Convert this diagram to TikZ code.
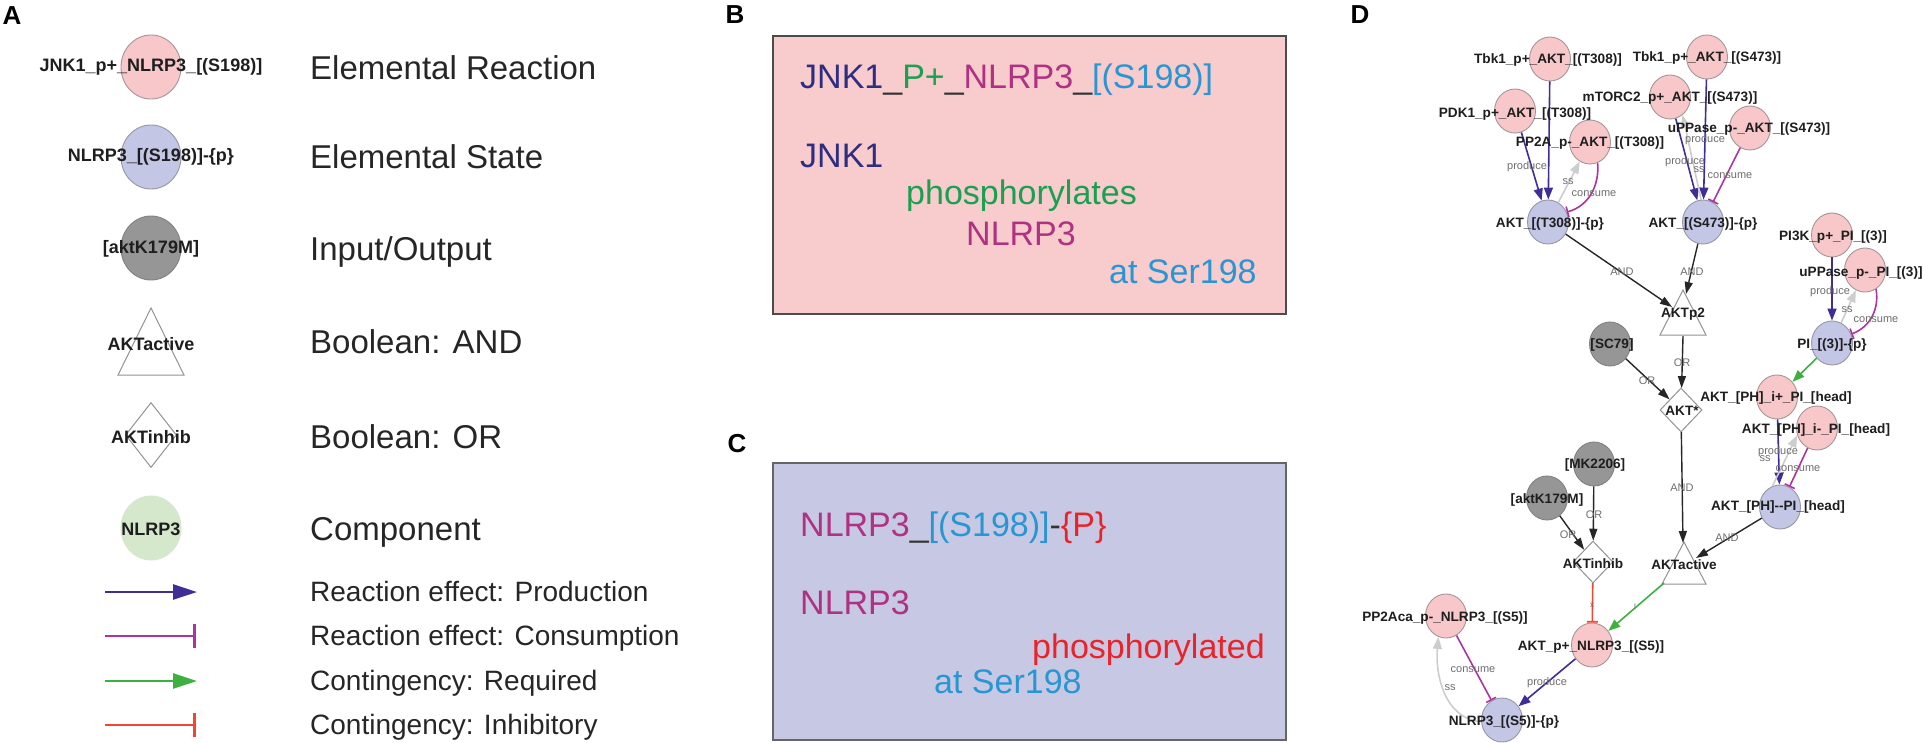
\documentclass[tikz,border=0pt]{standalone}
\usepackage{fontspec}
\setmainfont{Liberation Sans}
\usetikzlibrary{arrows.meta,shapes.geometric}
\definecolor{rxnfill}{RGB}{247,199,201}
\definecolor{rxndraw}{RGB}{165,150,150}
\definecolor{stfill}{RGB}{196,198,230}
\definecolor{stdraw}{RGB}{150,150,165}
\definecolor{iofill}{RGB}{150,150,150}
\definecolor{iodraw}{RGB}{130,130,130}
\definecolor{compfill}{RGB}{213,232,203}
\definecolor{prodc}{RGB}{62,46,150}
\definecolor{consc}{RGB}{172,52,160}
\definecolor{reqc}{RGB}{62,176,66}
\definecolor{inhc}{RGB}{240,70,50}
\definecolor{ssc}{RGB}{205,205,205}
\definecolor{txtc}{RGB}{30,30,30}
\definecolor{elc}{RGB}{110,110,110}
\definecolor{navyc}{RGB}{45,45,130}
\definecolor{pgreen}{RGB}{25,160,80}
\definecolor{magc}{RGB}{175,50,130}
\definecolor{skyc}{RGB}{40,150,210}
\definecolor{redc}{RGB}{235,35,40}
\definecolor{boxpink}{RGB}{248,203,205}
\definecolor{boxlav}{RGB}{198,200,228}
\tikzset{
  rxn/.style={ellipse,draw=rxndraw,fill=rxnfill,line width=0.9pt,minimum width=41pt,minimum height=44pt,inner sep=0pt},
  st/.style={rxn,draw=stdraw,fill=stfill},
  io/.style={rxn,draw=iodraw,fill=iofill},
  comp/.style={rxn,draw=compfill,fill=compfill},
  dlbl/.style={font=\fontsize{13.6}{15}\selectfont\bfseries,text=txtc,inner sep=0pt},
  elbl/.style={font=\fontsize{11}{12}\selectfont,text=elc,inner sep=0pt},
  dia/.style={diamond,draw=gray!85,fill=white,line width=1pt,minimum width=42pt,minimum height=44pt,inner sep=0pt},
  andtri/.style={draw=gray!85,fill=white,line width=1pt,line join=miter},
  prod/.style={draw=prodc,line width=1.6pt,-{Triangle[length=12pt,width=9pt]}},
  cons/.style={draw=consc,line width=1.6pt,-{Bar[width=11pt]}},
  req/.style={draw=reqc,line width=1.6pt,-{Triangle[length=12pt,width=9pt]}},
  inh/.style={draw=inhc,line width=1.6pt,-{Bar[width=11pt]}},
  ssedge/.style={draw=ssc,line width=1.6pt,-{Triangle[length=12pt,width=9pt]}},
  bool/.style={draw=black!85,line width=1.4pt,-{Triangle[length=12pt,width=8pt]}},
  lprod/.style={draw=prodc,line width=2.6pt,-{Triangle[length=24pt,width=15pt]}},
  lcons/.style={draw=consc,line width=2.6pt,-{Bar[width=24pt]}},
  lreq/.style={draw=reqc,line width=2.6pt,-{Triangle[length=24pt,width=15pt]}},
  linh/.style={draw=inhc,line width=2.6pt,-{Bar[width=24pt]}},
  panel/.style={font=\fontsize{26}{28}\selectfont\bfseries,inner sep=0pt},
  ltxt/.style={font=\fontsize{33}{36}\selectfont,text=black!85,inner sep=0pt,anchor=base west},
  ltxs/.style={font=\fontsize{28}{30}\selectfont,text=black!85,inner sep=0pt,anchor=base west},
  lsym/.style={font=\fontsize{18}{20}\selectfont\bfseries,text=txtc,inner sep=0pt},
  btxt/.style={font=\fontsize{34}{38}\selectfont,inner sep=0pt,anchor=base west},
  boxB/.style={draw=black!70,line width=1.6pt,fill=boxpink,anchor=north west,inner sep=0pt},
  boxC/.style={draw=black!60,line width=1.6pt,fill=boxlav,anchor=north west,inner sep=0pt},
}
\begin{document}
\begin{tikzpicture}[x=1pt,y=-1pt]
\useasboundingbox (0,0) rectangle (1923,742);
\fill[white] (0,0) rectangle (1923,742);

% ---------------- Panel A ----------------
\node[panel] (pA) at (12,16) {A};
\node[rxn,minimum width=60pt,minimum height=64pt] (Lr) at (151,67) {};
\node[lsym] (Lr-t) at (151,67) {JNK1\_p+\_NLRP3\_[(S198)]};
\node[ltxt] (Lr-d) at (310,79) {Elemental Reaction};
\node[st,minimum width=60pt,minimum height=64pt] (Ls) at (151,157) {};
\node[lsym] (Ls-t) at (151,157) {NLRP3\_[(S198)]-\{p\}};
\node[ltxt] (Ls-d) at (310,168) {Elemental State};
\node[io,minimum width=60pt,minimum height=64pt] (Li) at (151,248) {};
\node[lsym] (Li-t) at (151,249) {[aktK179M]};
\node[ltxt] (Li-d) at (310,260) {Input/Output};
\draw[andtri] (118,375) -- (151,308) -- (184,375) -- cycle;
\node[lsym] (La-t) at (151,344) {AKTactive};
\node[ltxt] (La-d) at (310,353) {Boolean: AND};
\node[dia,minimum width=51pt,minimum height=65pt] (Lo) at (151,435) {};
\node[lsym] (Lo-t) at (151,437) {AKTinhib};
\node[ltxt] (Lo-d) at (310,448) {Boolean: OR};
\node[comp,minimum width=60pt,minimum height=64pt] (Lc) at (151,528) {};
\node[lsym] (Lc-t) at (151,529) {NLRP3};
\node[ltxt] (Lc-d) at (310,540) {Component};
\coordinate (Lp1) at (105,592); \coordinate (Lp2) at (197,592);
\coordinate (Lq1) at (105,636); \coordinate (Lq2) at (196,636);
\coordinate (Lg1) at (105,681); \coordinate (Lg2) at (197,681);
\coordinate (Lh1) at (105,725); \coordinate (Lh2) at (196,725);
\draw[lprod] (Lp1) -- (Lp2);
\draw[lcons] (Lq1) -- (Lq2);
\draw[lreq] (Lg1) -- (Lg2);
\draw[linh] (Lh1) -- (Lh2);
\node[ltxs] (Lp-d) at (310,601) {Reaction effect: Production};
\node[ltxs] (Lq-d) at (310,645) {Reaction effect: Consumption};
\node[ltxs] (Lg-d) at (310,690) {Contingency: Required};
\node[ltxs] (Lh-d) at (310,734) {Contingency: Inhibitory};

% ---------------- Panel B ----------------
\node[panel] (pB) at (735,15) {B};
\node[boxB,minimum width=513pt,minimum height=278pt] (bB) at (772,35) {};
\node[btxt] (b1) at (800,88) {\color{navyc}JNK1\color{black!80}\_\color{pgreen}P+\color{black!80}\_\color{magc}NLRP3\color{black!80}\_\color{skyc}[(S198)]};
\node[btxt,text=navyc] (b2) at (800,167) {JNK1};
\node[btxt,text=pgreen] (b3) at (906,204) {phosphorylates};
\node[btxt,text=magc] (b4) at (966,245) {NLRP3};
\node[btxt,text=skyc] (b5) at (1109,283) {at Ser198};

% ---------------- Panel C ----------------
\node[panel] (pC) at (737,444) {C};
\node[boxC,minimum width=513pt,minimum height=277pt] (bC) at (772,462) {};
\node[btxt] (c1) at (800,536) {\color{magc}NLRP3\color{black!80}\_\color{skyc}[(S198)]\color{black!80}-\color{redc}\{P\}};
\node[btxt,text=magc] (c2) at (800,614) {NLRP3};
\node[btxt,text=redc] (c3) at (1032,658) {phosphorylated};
\node[btxt,text=skyc] (c4) at (934,693) {at Ser198};

% ---------------- Panel D ----------------
\node[panel] (pD) at (1360,15) {D};
% nodes
\node[rxn] (tbkT) at (1550,59) {};
\node[rxn] (pdk) at (1515,111) {};
\node[rxn] (mtorc) at (1670,97) {};
\node[rxn] (tbkS) at (1707,57) {};
\node[rxn] (pp2a) at (1590,142) {};
\node[rxn] (uppA) at (1750,128) {};
\node[st] (aktT) at (1548,222) {};
\node[st] (aktS) at (1703,222) {};
\node[rxn] (pi3k) at (1832,235) {};
\node[rxn] (uppPI) at (1865,270) {};
\node[st] (piP) at (1832,343) {};
\node[io] (sc79) at (1610,344) {};
\node[dia] (aktstar) at (1681,410) {};
\node[rxn] (ip) at (1777,397) {};
\node[rxn] (im) at (1817,428) {};
\node[st] (pp) at (1780,507) {};
\node[io] (mk) at (1594,464) {};
\node[io] (k179) at (1547,498) {};
\node[dia,minimum width=40pt,minimum height=42pt] (inhib) at (1593,562) {};
\node[rxn] (aktp) at (1592,645) {};
\node[rxn] (pp2aca) at (1446,616) {};
\node[st] (nlrp) at (1502,720) {};
% AND gates
\draw[andtri] (1660,335) -- (1683,290) -- (1706,335) -- cycle;
\draw[andtri] (1662,584) -- (1684,542) -- (1706,584) -- cycle;
\coordinate (p2L) at (1672,307);
\coordinate (p2top) at (1686,294);
\coordinate (p2bot) at (1683,336);
\coordinate (atop) at (1683,543);
\coordinate (aR) at (1696,558);
\coordinate (aL) at (1664,583);

% edges
\draw[prod] (tbkT) -- (aktT);
\draw[prod] (pdk) -- (aktT);
\draw[ssedge] (aktT) -- (pp2a);
\draw[cons] (pp2a.-70) to[out=-85,in=15] (aktT.28);
\draw[prod] (mtorc) -- (aktS);
\draw[prod] (tbkS) -- (aktS);
\draw[ssedge] (aktS.95) -- (mtorc.-55);
\draw[cons] (uppA) -- (aktS);
\draw[bool] (aktT) -- (p2L);
\draw[bool] (aktS) -- (p2top);
\draw[bool] (p2bot) -- (aktstar);
\draw[bool] (sc79) -- (aktstar);
\draw[prod] (pi3k) -- (piP);
\draw[ssedge] (piP) -- (uppPI);
\draw[cons] (uppPI.-60) to[out=-80,in=20] (piP.25);
\draw[req] (piP) -- (ip);
\draw[prod] (ip) -- (pp);
\draw[ssedge] (pp.110) -- (im.200);
\draw[cons] (im) -- (pp);
\draw[bool] (aktstar) -- (atop);
\draw[bool] (pp) -- (aR);
\draw[bool] (mk) -- (inhib);
\draw[bool] (k179) -- (inhib);
\draw[inh] (inhib) -- (aktp);
\draw[req] (aL) -- (aktp);
\draw[prod] (aktp) -- (nlrp);
\draw[cons] (pp2aca) -- (nlrp);
\draw[ssedge] (nlrp.185) to[out=175,in=-95] (pp2aca.250);

% edge labels
\node[elbl] (e1) at (1527,167) {produce};
\node[elbl] (e2) at (1568,182) {ss};
\node[elbl] (e3) at (1594,194) {consume};
\node[elbl] (e4) at (1705,140) {produce};
\node[elbl] (e5) at (1685,162) {produce};
\node[elbl] (e6) at (1699,170) {ss};
\node[elbl] (e7) at (1730,176) {consume};
\node[elbl] (e8) at (1622,272) {AND};
\node[elbl] (e9) at (1692,272) {AND};
\node[elbl] (e10) at (1682,363) {OR};
\node[elbl] (e11) at (1647,381) {OR};
\node[elbl] (e12) at (1830,292) {produce};
\node[elbl] (e13) at (1847,310) {ss};
\node[elbl] (e14) at (1876,320) {consume};
\node[elbl] (e15) at (1778,452) {produce};
\node[elbl] (e16) at (1765,459) {ss};
\node[elbl] (e17) at (1798,469) {consume};
\node[elbl] (e18) at (1682,488) {AND};
\node[elbl] (e19) at (1727,538) {AND};
\node[elbl] (e20) at (1594,515) {OR};
\node[elbl] (e21) at (1568,535) {OR};
\node[elbl,font=\fontsize{8}{9}\selectfont] (e22) at (1592,605) {x};
\node[elbl,font=\fontsize{8}{9}\selectfont] (e23) at (1635,607) {!};
\node[elbl] (e24) at (1547,683) {produce};
\node[elbl] (e25) at (1473,670) {consume};
\node[elbl] (e26) at (1450,688) {ss};

% node labels
\node[dlbl] (tbkT-t) at (1548,60) {Tbk1\_p+\_AKT\_[(T308)]};
\node[dlbl] (pdk-t) at (1515,114) {PDK1\_p+\_AKT\_[(T308)]};
\node[dlbl] (mtorc-t) at (1670,98) {mTORC2\_p+\_AKT\_[(S473)]};
\node[dlbl] (tbkS-t) at (1707,58) {Tbk1\_p+\_AKT\_[(S473)]};
\node[dlbl] (pp2a-t) at (1590,143) {PP2A\_p-\_AKT\_[(T308)]};
\node[dlbl] (uppA-t) at (1749,129) {uPPase\_p-\_AKT\_[(S473)]};
\node[dlbl] (aktT-t) at (1550,224) {AKT\_[(T308)]-\{p\}};
\node[dlbl] (aktS-t) at (1703,224) {AKT\_[(S473)]-\{p\}};
\node[dlbl] (pi3k-t) at (1833,237) {PI3K\_p+\_PI\_[(3)]};
\node[dlbl] (uppPI-t) at (1861,273) {uPPase\_p-\_PI\_[(3)]};
\node[dlbl] (piP-t) at (1832,345) {PI\_[(3)]-\{p\}};
\node[dlbl] (sc79-t) at (1612,345) {[SC79]};
\node[dlbl] (p2-t) at (1683,314) {AKTp2};
\node[dlbl] (aktstar-t) at (1682,411) {AKT*};
\node[dlbl] (ip-t) at (1776,398) {AKT\_[PH]\_i+\_PI\_[head]};
\node[dlbl] (im-t) at (1816,430) {AKT\_[PH]\_i-\_PI\_[head]};
\node[dlbl] (pp-t) at (1778,507) {AKT\_[PH]-{}-PI\_[head]};
\node[dlbl] (akta-t) at (1684,565) {AKTactive};
\node[dlbl] (mk-t) at (1595,465) {[MK2206]};
\node[dlbl] (k179-t) at (1547,500) {[aktK179M]};
\node[dlbl] (inhib-t) at (1593,564) {AKTinhib};
\node[dlbl] (aktp-t) at (1591,647) {AKT\_p+\_NLRP3\_[(S5)]};
\node[dlbl] (pp2aca-t) at (1445,618) {PP2Aca\_p-\_NLRP3\_[(S5)]};
\node[dlbl] (nlrp-t) at (1504,722) {NLRP3\_[(S5)]-\{p\}};
\end{tikzpicture}
\end{document}
